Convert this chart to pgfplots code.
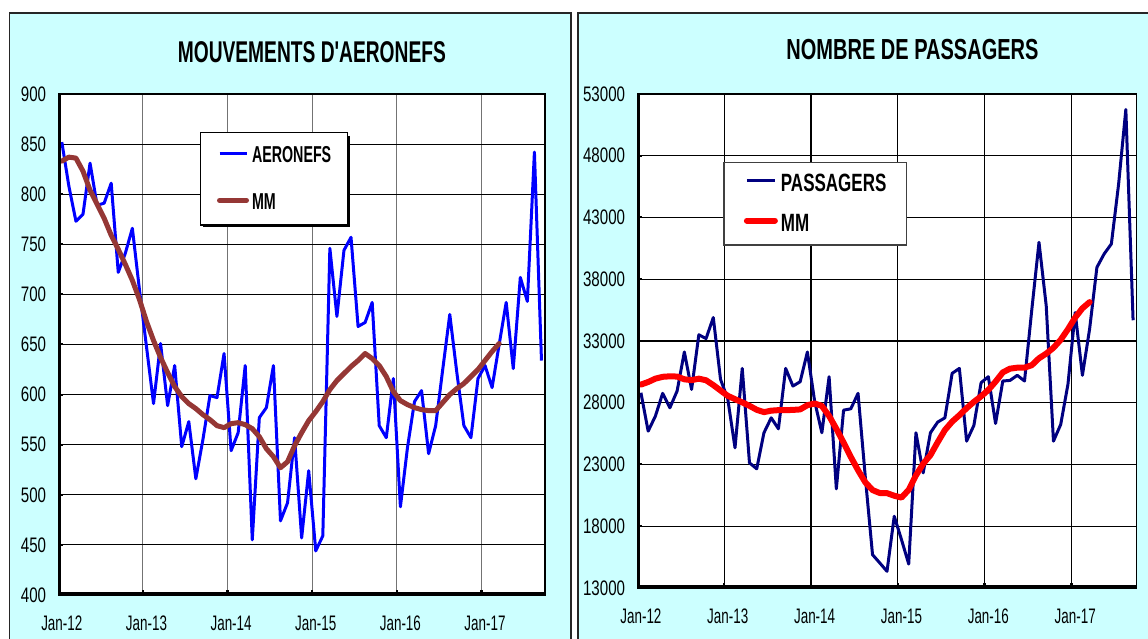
\documentclass[border=0pt]{standalone}
\usepackage{fontspec}
\setmainfont{Liberation Sans}
\newfontfamily\ftitleA[FakeStretch=0.64]{Liberation Sans}
\newfontfamily\ftitleB[FakeStretch=0.69]{Liberation Sans}
\newfontfamily\fyt[FakeStretch=0.72]{Liberation Sans}
\newfontfamily\fxt[FakeStretch=0.64]{Liberation Sans}
\newfontfamily\flegA[FakeStretch=0.62]{Liberation Sans}
\newfontfamily\flegB[FakeStretch=0.68]{Liberation Sans}
\usepackage{pgfplots}
\pgfplotsset{compat=1.18}
\usepackage{pgfplotstable}

\definecolor{panel}{HTML}{CCFFFF}
\definecolor{mmbrown}{HTML}{953735}
\definecolor{navy}{HTML}{000080}

% monthly values Jan-12 .. Sep-17, plotted at the middle of each month slot
\pgfplotstableread{
x y
0.5 852
1.5 808
2.5 773
3.5 780
4.5 831
5.5 789
6.5 791
7.5 811
8.5 722
9.5 741
10.5 766
11.5 705
12.5 648
13.5 591
14.5 651
15.5 589
16.5 629
17.5 548
18.5 573
19.5 516
20.5 555
21.5 599
22.5 597
23.5 641
24.5 544
25.5 562
26.5 629
27.5 455
28.5 577
29.5 587
30.5 629
31.5 474
32.5 492
33.5 557
34.5 457
35.5 524
36.5 444
37.5 459
38.5 746
39.5 678
40.5 744
41.5 757
42.5 668
43.5 672
44.5 692
45.5 569
46.5 557
47.5 616
48.5 488
49.5 547
50.5 593
51.5 604
52.5 541
53.5 569
54.5 625
55.5 680
56.5 622
57.5 569
58.5 557
59.5 616
60.5 629
61.5 607
62.5 650
63.5 692
64.5 626
65.5 717
66.5 693
67.5 842
68.5 634
}\aeronefs

\pgfplotstableread{
x y
0.5 833
1.5 837
2.5 836
3.5 823
4.5 804
5.5 790
6.5 776
7.5 759
8.5 745
9.5 730
10.5 714
11.5 695
12.5 673
13.5 654
14.5 637
15.5 622
16.5 608
17.5 598
18.5 591
19.5 586
20.5 580
21.5 575
22.5 569
23.5 567
24.5 571
25.5 572
26.5 570
27.5 566
28.5 558
29.5 546
30.5 538
31.5 527
32.5 533
33.5 549
34.5 562
35.5 574
36.5 583
37.5 593
38.5 605
39.5 614
40.5 621
41.5 628
42.5 634
43.5 641
44.5 636
45.5 629
46.5 618
47.5 603
48.5 594
49.5 590
50.5 587
51.5 585
52.5 584
53.5 584
54.5 592
55.5 600
56.5 606
57.5 611
58.5 618
59.5 625
60.5 634
61.5 643
62.5 651
}\mmaero

\pgfplotstableread{
x y
0.5 28810
1.5 25700
2.5 26920
3.5 28760
4.5 27590
5.5 28950
6.5 32110
7.5 29080
8.5 33500
9.5 33200
10.5 34900
11.5 29890
12.5 28300
13.5 24350
14.5 30780
15.5 23130
16.5 22650
17.5 25570
18.5 26780
19.5 25890
20.5 30780
21.5 29350
22.5 29700
23.5 32110
24.5 28130
25.5 25570
26.5 30110
27.5 21030
28.5 27400
29.5 27510
30.5 28760
31.5 22000
32.5 15700
33.5 15030
34.5 14350
35.5 18810
36.5 16920
37.5 14940
38.5 25570
39.5 22320
40.5 25570
41.5 26430
42.5 26780
43.5 30380
44.5 30780
45.5 24890
46.5 26160
47.5 29620
48.5 30110
49.5 26320
50.5 29760
51.5 29810
52.5 30220
53.5 29760
54.5 35500
55.5 40990
56.5 35850
57.5 24890
58.5 26240
59.5 29490
60.5 35300
61.5 30220
62.5 34000
63.5 38960
64.5 40050
65.5 40860
66.5 45700
67.5 51750
68.5 34680
}\passagers

\pgfplotstableread{
x y
0.5 29470
1.5 29680
2.5 29950
3.5 30100
4.5 30140
5.5 30120
6.5 29900
7.5 29830
8.5 29950
9.5 29820
10.5 29430
11.5 28990
12.5 28560
13.5 28290
14.5 28030
15.5 27750
16.5 27430
17.5 27240
18.5 27360
19.5 27400
20.5 27400
21.5 27420
22.5 27460
23.5 27800
24.5 27940
25.5 27740
26.5 26930
27.5 25890
28.5 24780
29.5 23610
30.5 22540
31.5 21560
32.5 20930
33.5 20690
34.5 20680
35.5 20470
36.5 20320
37.5 20950
38.5 22120
39.5 23060
40.5 23760
41.5 24800
42.5 25790
43.5 26470
44.5 26990
45.5 27560
46.5 28070
47.5 28520
48.5 29040
49.5 29710
50.5 30460
51.5 30760
52.5 30840
53.5 30840
54.5 31040
55.5 31600
56.5 31980
57.5 32450
58.5 33100
59.5 33950
60.5 34900
61.5 35650
62.5 36150
}\mmpass

\pgfplotsset{
  panelaxis/.style={
    anchor=south west, scale only axis,
    xmin=0, xmax=69,
    xtick={12,24,36,48,60}, xticklabels={,,,,},
    extra x ticks={0.5,12.5,24.5,36.5,48.5,60.5},
    extra x tick labels={Jan-12,Jan-13,Jan-14,Jan-15,Jan-16,Jan-17},
    extra x tick style={grid=none, major tick length=0pt,
      tick label style={font=\fontsize{21}{21}\fxt, anchor=north, inner sep=0pt, yshift=-21pt}},
    tick pos=left, tick align=inside,
    major tick length=5pt,
    xtick style={black, line width=2.5pt},
    ytick style={black, line width=2pt},
    ymajorgrids, xmajorgrids,
    y grid style={black, line width=1.1pt},
    axis line style={black, line width=1.1pt},
    axis background/.style={fill=white},
    yticklabel style={font=\fontsize{21}{21}\fyt, anchor=east, inner sep=0pt, xshift=-12pt},
    /pgf/number format/assume math mode=true,
    /pgf/number format/1000 sep={},
    scaled y ticks=false,
    legend cell align=left,
  },
}

\begin{document}
\begin{tikzpicture}
\useasboundingbox (0pt,0pt) rectangle (1148pt,639pt);
\fill[white] (0pt,0pt) rectangle (1148pt,639pt);
\filldraw[fill=panel, draw=black!85, line width=1.4pt] (9.2pt,-10pt) rectangle (570.8pt,626pt);
\filldraw[fill=panel, draw=black!85, line width=1.4pt] (578.1pt,-10pt) rectangle (1160pt,626pt);

\begin{axis}[panelaxis,
  at={(58.3pt,44pt)}, width=486.7pt, height=501pt,
  ymin=400, ymax=900, ytick={400,450,...,900},
  x grid style={black!55, line width=1.1pt},
  title={MOUVEMENTS D'AERONEFS},
  title style={font=\fontsize{30}{30}\ftitleA\bfseries, at={(axis description cs:0.521,1.05)}, anchor=base, inner sep=0pt},
  legend style={at={(axis description cs:0.291,0.924)}, anchor=north west,
    draw=black, line width=1.2pt, fill=white,
    font=\fontsize{23}{23}\flegA\bfseries,
    inner xsep=16.5pt, inner ysep=14pt, row sep=29.5pt,
    nodes={inner sep=0pt},
    /tikz/every odd column/.append style={column sep=3pt}},
  legend image code/.code={\draw[#1] (0pt,2pt) -- (27pt,2pt);},
]
% legend drop shadow, drawn before the legend box
\fill[black] (axis description cs:0.2973,0.9156) rectangle (axis description cs:0.5987,0.7351);
\addplot[blue, line width=3pt, line join=round, no markers] table[x=x, y=y] {\aeronefs};
\addlegendentry{AERONEFS}
\addplot[mmbrown, line width=5pt, line join=round, line cap=round, no markers] table[x=x, y=y] {\mmaero};
\addlegendentry{MM}
\draw[black, line width=5pt, line cap=rect] (rel axis cs:0,0) -- (rel axis cs:1,0);
\draw[black, line width=4.5pt, line cap=rect] (rel axis cs:0,0) -- (rel axis cs:0,1);
\end{axis}

\begin{axis}[panelaxis,
  at={(637.3pt,51pt)}, width=499.4pt, height=494pt,
  ymin=13000, ymax=53000, ytick={13000,18000,...,53000},
  x grid style={black, line width=1.1pt},
  title={NOMBRE DE PASSAGERS},
  title style={font=\fontsize{29}{29}\ftitleB\bfseries, at={(axis description cs:0.551,1.0567)}, anchor=base, inner sep=0pt},
  legend style={at={(axis description cs:0.1722,0.863)}, anchor=north west,
    draw=black!75, line width=1.2pt, fill=white,
    font=\fontsize{25}{25}\flegB\bfseries,
    inner xsep=20pt, inner ysep=12pt, row sep=21pt,
    nodes={inner sep=0pt},
    /tikz/every odd column/.append style={column sep=3pt}},
  legend image code/.code={\draw[#1] (0pt,3pt) -- (28pt,3pt);},
]
\addplot[navy, line width=3pt, line join=round, no markers] table[x=x, y=y] {\passagers};
\addlegendentry{PASSAGERS}
\addplot[red, line width=6pt, line join=round, line cap=round, no markers] table[x=x, y=y] {\mmpass};
\addlegendentry{MM}
\draw[black, line width=5pt, line cap=rect] (rel axis cs:0,0) -- (rel axis cs:1,0);
\draw[black, line width=4.5pt, line cap=rect] (rel axis cs:0,0) -- (rel axis cs:0,1);
\end{axis}
\end{tikzpicture}
\end{document}
